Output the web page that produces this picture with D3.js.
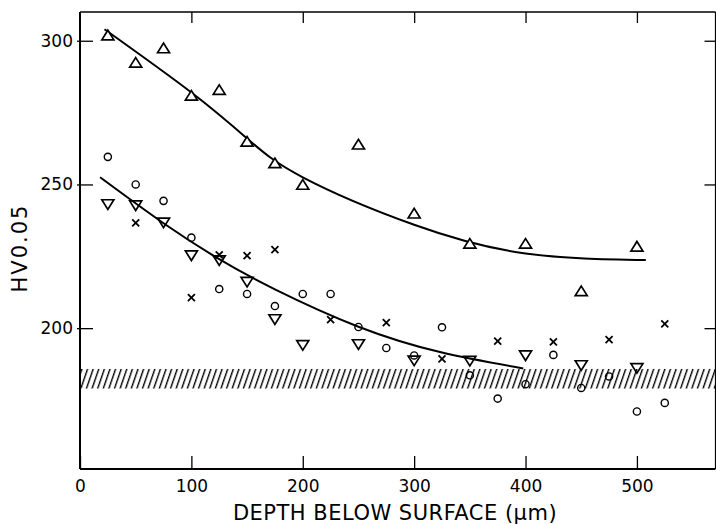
<!DOCTYPE html>
<html><head><meta charset="utf-8">
<script src="https://cdn.jsdelivr.net/npm/d3@7"></script>
<style>html,body{margin:0;padding:0;background:#fff;}svg{display:block;}</style>
</head><body>
<svg id="c" width="716" height="525"></svg>
<script>
// ---- data ----
const xTicks = [0, 100, 200, 300, 400, 500];
const yTicks = [200, 250, 300];
const xTitle = "DEPTH BELOW SURFACE (\u03bcm)";
const yTitle = "HV0.05";

const upDepth = [25, 50, 75, 100, 125, 150, 175, 200, 250, 300, 350, 400, 450, 500];
const upHV    = [302, 292.5, 297.5, 281, 283, 265, 257.5, 250, 264, 240, 229.5, 229.5, 213, 228.5];

const downDepth = [25, 50, 75, 100, 125, 150, 175, 200, 250, 300, 350, 400, 450, 500];
const downHV    = [243, 242.6, 236.6, 225.2, 223.5, 216, 203, 194, 194.3, 188.6, 188.5, 190.4, 187, 186];

const circDepth = [25, 50, 75, 100, 125, 150, 175, 200, 225, 250, 275, 300, 325, 350, 375, 400, 425, 450, 475, 500, 525];
const circHV    = [259.6, 250, 244.3, 231.5, 213.6, 211.9, 207.7, 211.9, 211.9, 200.4, 193.1, 190.5, 200.3, 183.6, 175.5, 180.5, 190.7, 179.2, 183.2, 171, 174];

const crossDepth = [50, 100, 125, 150, 175, 225, 275, 325, 375, 425, 475, 525];
const crossHV    = [236.6, 210.6, 225.5, 225.2, 227.3, 203, 201.9, 189.3, 195.5, 195.2, 196, 201.5];

// fitted curves
const upperFitDepth = [22, 100, 150, 200, 300, 400, 508];
const upperFitHV    = [304, 282, 266, 252.5, 236, 226, 223.7];
const lowerFitDepth = [18, 75, 125, 175, 250, 325, 398];
const lowerFitHV    = [252.5, 236.5, 224, 213.5, 200.5, 191.5, 186];

const bandHV = [179, 185.8];

// ---- layout ----
const L = 80, T = 12, R = 715.5, B = 469;
const svg = d3.select("#c");
const x = d3.scaleLinear().domain([0, 571]).range([L, 716]);
const y = d3.scaleLinear().domain([151, 310]).range([B, T]);
const FONT = "DejaVu Sans, sans-serif";

// hatch pattern
const defs = svg.append("defs");
const pat = defs.append("pattern").attr("id", "hatch").attr("patternUnits", "userSpaceOnUse")
  .attr("width", 5.3).attr("height", 40).attr("patternTransform", "rotate(19)");
pat.append("line").attr("x1", 1.5).attr("y1", 0).attr("x2", 1.5).attr("y2", 40)
  .attr("stroke", "#000").attr("stroke-width", 1.4);

svg.append("rect")
  .attr("x", x(0)).attr("width", x(571) - x(0))
  .attr("y", y(bandHV[1])).attr("height", y(bandHV[0]) - y(bandHV[1]))
  .attr("fill", "url(#hatch)");

// frame
const frame = svg.append("g").attr("fill", "none").attr("stroke", "#000");
frame.append("line").attr("x1", L).attr("x2", R).attr("y1", T).attr("y2", T).attr("stroke-width", 1.6);
frame.append("line").attr("x1", L).attr("x2", R).attr("y1", B).attr("y2", B).attr("stroke-width", 2);
frame.append("line").attr("x1", L).attr("x2", L).attr("y1", T).attr("y2", B).attr("stroke-width", 2);
frame.append("line").attr("x1", R).attr("x2", R).attr("y1", T).attr("y2", B).attr("stroke-width", 1.2);

// axes
function styleAxis(g) {
  g.select(".domain").remove();
  g.selectAll(".tick line").attr("stroke", "#000").attr("stroke-width", 1.3);
  g.selectAll("text").attr("font-family", FONT).attr("font-size", 17).attr("fill", "#000");
}
const gB = svg.append("g").attr("transform", `translate(0,${B})`)
  .call(d3.axisBottom(x).tickValues(xTicks).tickSizeInner(-13).tickSizeOuter(0).tickPadding(8).tickFormat(d3.format("d")));
styleAxis(gB);
gB.selectAll("text").attr("dy", "0.9em");
const gT = svg.append("g").attr("transform", `translate(0,${T})`)
  .call(d3.axisTop(x).tickValues(xTicks.filter(d => d > 0)).tickSizeInner(-11).tickSizeOuter(0).tickFormat(""));
styleAxis(gT);
const gL = svg.append("g").attr("transform", `translate(${L},0)`)
  .call(d3.axisLeft(y).tickValues(yTicks).tickSizeInner(-13).tickSizeOuter(0).tickPadding(7).tickFormat(d3.format("d")));
styleAxis(gL);
gL.selectAll(".tick line").attr("x1", -3);
const gR = svg.append("g").attr("transform", `translate(${R},0)`)
  .call(d3.axisRight(y).tickValues(yTicks).tickSizeInner(-11).tickSizeOuter(0).tickFormat(""));
styleAxis(gR);

// titles
svg.append("text").attr("x", 395).attr("y", 520).attr("text-anchor", "middle")
  .attr("font-family", FONT).attr("font-size", 21).attr("letter-spacing", 0.5).text(xTitle);
svg.append("text").attr("transform", "translate(27,248) rotate(-90)").attr("text-anchor", "middle")
  .attr("font-family", FONT).attr("font-size", 21).attr("letter-spacing", 2).text(yTitle);

// fitted curves
const line = d3.line().x(d => x(d[0])).y(d => y(d[1])).curve(d3.curveNatural);
svg.append("path").datum(d3.zip(upperFitDepth, upperFitHV)).attr("d", line)
  .attr("fill", "none").attr("stroke", "#000").attr("stroke-width", 2);
svg.append("path").datum(d3.zip(lowerFitDepth, lowerFitHV)).attr("d", line)
  .attr("fill", "none").attr("stroke", "#000").attr("stroke-width", 2);

// markers
const mk = svg.append("g").attr("fill", "none").attr("stroke", "#000");
mk.selectAll(".up").data(d3.zip(upDepth, upHV)).join("path")
  .attr("transform", d => `translate(${x(d[0])},${y(d[1])})`)
  .attr("d", "M-6,4.8L6,4.8L0,-4.8Z").attr("stroke-width", 1.7).attr("fill", "#fff");
mk.selectAll(".down").data(d3.zip(downDepth, downHV)).join("path")
  .attr("transform", d => `translate(${x(d[0])},${y(d[1])})`)
  .attr("d", "M-6,-4.8L6,-4.8L0,4.8Z").attr("stroke-width", 1.7).attr("fill", "none");
mk.selectAll(".circ").data(d3.zip(circDepth, circHV)).join("circle")
  .attr("cx", d => x(d[0])).attr("cy", d => y(d[1])).attr("r", 3.6).attr("stroke-width", 1.4);
mk.selectAll(".cross").data(d3.zip(crossDepth, crossHV)).join("path")
  .attr("transform", d => `translate(${x(d[0])},${y(d[1])})`)
  .attr("d", "M-3.5,-3.5L3.5,3.5M-3.5,3.5L3.5,-3.5").attr("stroke-width", 1.8);
</script>
</body></html>
